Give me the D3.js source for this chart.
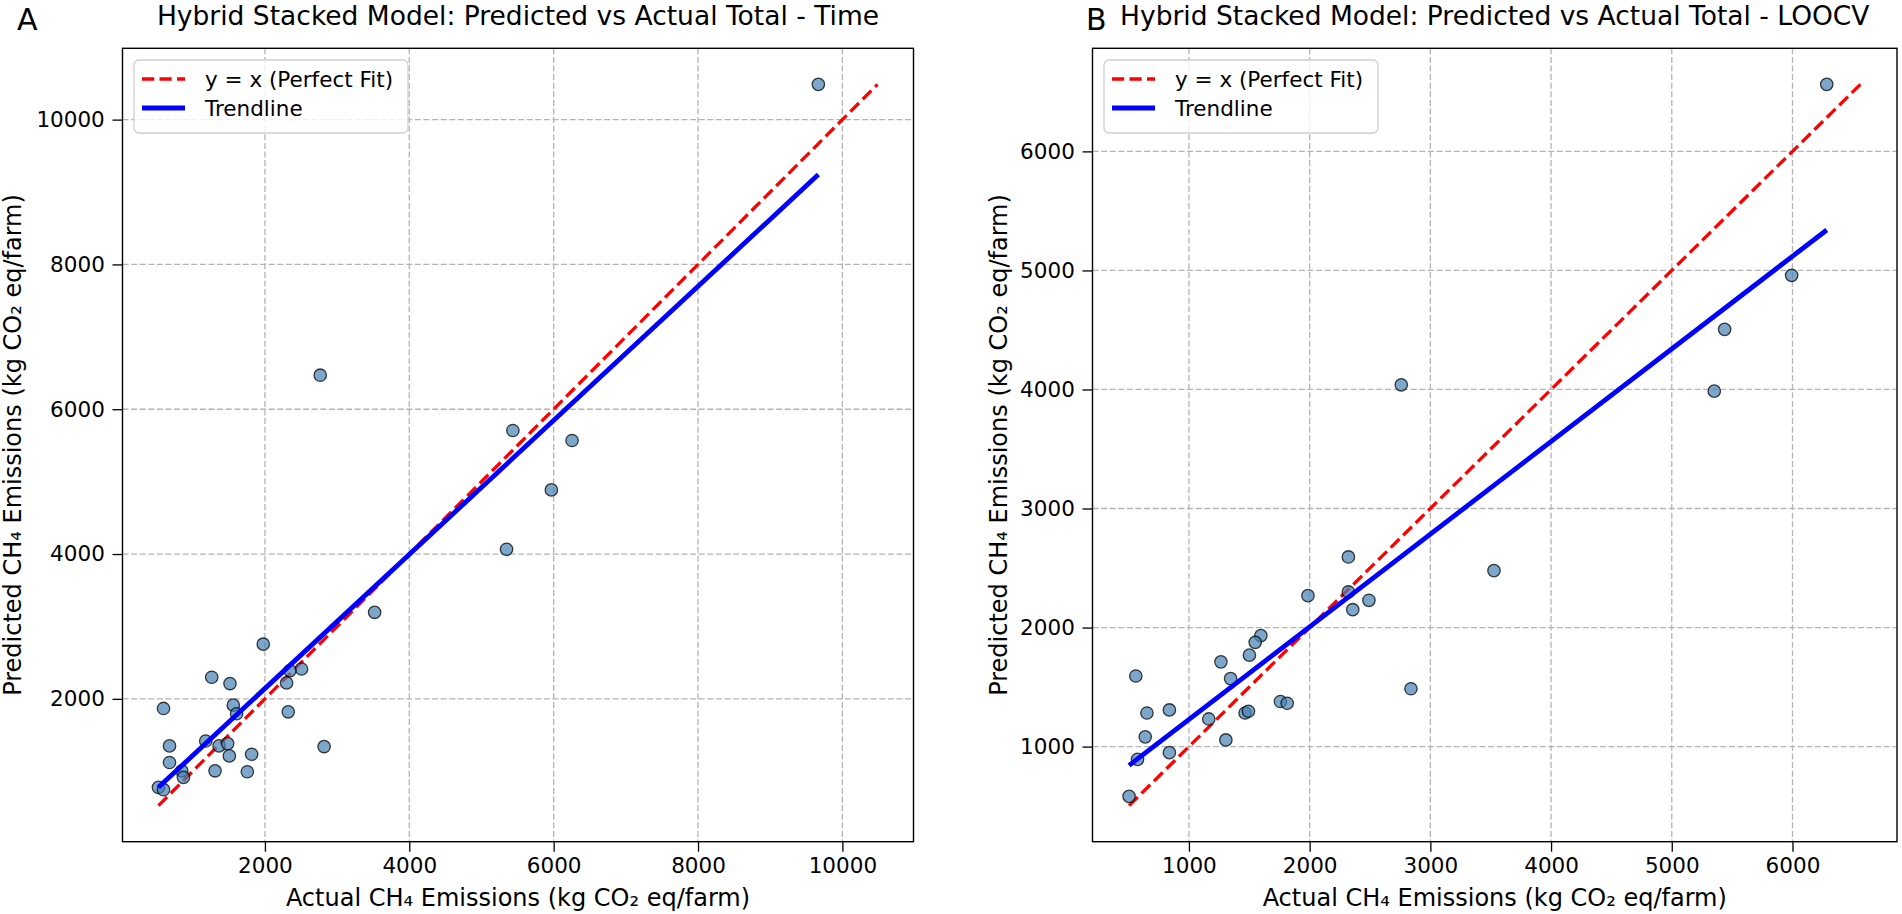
<!DOCTYPE html>
<html>
<head>
<meta charset="utf-8">
<script src="https://cdn.jsdelivr.net/npm/d3@7"></script>
<style>
  body { margin: 0; background: #fff; }
  svg { display: block; }
  text { font-family: "DejaVu Sans", sans-serif; }
</style>
</head>
<body>
<div id="graphic"></div>
<script>
// panel A - time split
const timeActual = [3520, 1977, 1263, 1516, 2507, 2300, 2346, 595, 1562, 1608, 2323,
  1180, 1364, 1484, 678, 1507, 1816, 2820, 678, 848, 871, 1309, 1756, 525, 595,
  9667, 5435, 6255, 5968, 5347, 2766];
const timePred = [3195, 2755, 2298, 2211, 2412, 2220, 2390, 1867, 1913, 1794, 1821,
  1418, 1350, 1382, 1350, 1212, 1235, 1341, 1121, 1006, 915, 1006, 993, 777, 745,
  10487, 5706, 5568, 4886, 4066, 6470];

// panel B - LOOCV
const loocvActual = [2321, 1986, 2321, 2491, 2357, 1596, 1549, 1501, 1265, 560, 1345,
  2839, 1758, 1814, 652, 838, 1465, 1493, 1164, 638, 1306, 838, 574, 504,
  2759, 3527, 5352, 5438, 5993, 6284];
const loocvPred = [2593, 2268, 2299, 2229, 2150, 1932, 1876, 1768, 1712, 1593, 1571,
  1486, 1379, 1364, 1282, 1308, 1282, 1297, 1232, 1082, 1056, 949, 893, 582,
  4039, 2478, 3986, 4505, 4959, 6563];

const ticksA = [2000, 4000, 6000, 8000, 10000];
const ticksB = [1000, 2000, 3000, 4000, 5000, 6000];

const titles = ['Hybrid Stacked Model: Predicted vs Actual Total - Time',
                'Hybrid Stacked Model: Predicted vs Actual Total - LOOCV'];
const panelLetters = ['A', 'B'];
const legendLabels = ['y = x (Perfect Fit)', 'Trendline'];
const xLabel = 'Actual CH\u2084 Emissions (kg CO\u2082 eq/farm)';
const yLabel = 'Predicted CH\u2084 Emissions (kg CO\u2082 eq/farm)';

const width = 1902;
const height = 914;
const plotTop = 48.3, plotBottom = 841.7;

const svg = d3.select('#graphic').append('svg')
    .attr('width', width)
    .attr('height', height);

function linFit(xs, ys) {
    const mx = d3.mean(xs), my = d3.mean(ys);
    let sxy = 0, sxx = 0;
    for (let i = 0; i < xs.length; i++) {
        sxy += (xs[i] - mx) * (ys[i] - my);
        sxx += (xs[i] - mx) * (xs[i] - mx);
    }
    const slope = sxy / sxx;
    return [slope, my - slope * mx];
}

function drawPanel(left, right, actual, pred, ticks, title, letter, letterX, ylabX) {
    const lo = Math.min(d3.min(actual), d3.min(pred));
    const hi = Math.max(d3.max(actual), d3.max(pred));
    const pad = (hi - lo) * 0.05;

    const x = d3.scaleLinear().domain([lo - pad, hi + pad]).range([left, right]);
    const y = d3.scaleLinear().domain([lo - pad, hi + pad]).range([plotBottom, plotTop]);

    const g = svg.append('g');

    // grid
    g.selectAll('.gx').data(ticks).enter().append('line')
        .attr('x1', d => x(d)).attr('x2', d => x(d))
        .attr('y1', plotTop).attr('y2', plotBottom)
        .attr('stroke', '#b4b4b4').attr('stroke-width', 1.3)
        .attr('stroke-dasharray', '6,2.6');
    g.selectAll('.gy').data(ticks).enter().append('line')
        .attr('y1', d => y(d)).attr('y2', d => y(d))
        .attr('x1', left).attr('x2', right)
        .attr('stroke', '#b4b4b4').attr('stroke-width', 1.3)
        .attr('stroke-dasharray', '6,2.6');

    // perfect fit line
    g.append('line')
        .attr('x1', x(lo)).attr('y1', y(lo))
        .attr('x2', x(hi)).attr('y2', y(hi))
        .attr('stroke', 'red').attr('stroke-width', 3.3)
        .attr('stroke-dasharray', '12.2,5.3');

    // points
    const pts = actual.map((a, i) => ({a: a, p: pred[i]}));
    g.selectAll('circle').data(pts).enter().append('circle')
        .attr('cx', d => x(d.a))
        .attr('cy', d => y(d.p))
        .attr('r', 6.2)
        .attr('fill', 'steelblue').attr('fill-opacity', 0.7)
        .attr('stroke', 'black').attr('stroke-opacity', 0.75)
        .attr('stroke-width', 1.3);

    // trendline
    const fit = linFit(actual, pred);
    const xa = d3.min(actual), xb = d3.max(actual);
    g.append('line')
        .attr('x1', x(xa)).attr('y1', y(fit[0] * xa + fit[1]))
        .attr('x2', x(xb)).attr('y2', y(fit[0] * xb + fit[1]))
        .attr('stroke', 'blue').attr('stroke-width', 4.8);

    // frame
    g.append('rect')
        .attr('x', left).attr('y', plotTop)
        .attr('width', right - left).attr('height', plotBottom - plotTop)
        .attr('fill', 'none').attr('stroke', 'black').attr('stroke-width', 1.4);

    // axes
    const ax = g.append('g')
        .attr('transform', `translate(0,${plotBottom})`)
        .call(d3.axisBottom(x).tickValues(ticks).tickSize(10).tickPadding(6).tickFormat(d3.format('d')));
    const ay = g.append('g')
        .attr('transform', `translate(${left},0)`)
        .call(d3.axisLeft(y).tickValues(ticks).tickSize(10).tickPadding(7.7).tickFormat(d3.format('d')));
    [ax, ay].forEach(a => {
        a.select('.domain').remove();
        a.selectAll('line').attr('stroke', 'black').attr('stroke-width', 1.3);
        a.selectAll('text').attr('font-size', 21.5)
            .attr('font-family', '"DejaVu Sans", sans-serif').attr('fill', 'black');
    });

    // labels
    g.append('text')
        .attr('x', (left + right) / 2).attr('y', 906)
        .attr('text-anchor', 'middle').attr('font-size', 24)
        .text(xLabel);
    g.append('text')
        .attr('transform', `translate(${ylabX},${(plotTop + plotBottom) / 2}) rotate(-90)`)
        .attr('text-anchor', 'middle').attr('font-size', 24)
        .text(yLabel);
    g.append('text')
        .attr('x', (left + right) / 2).attr('y', 25)
        .attr('text-anchor', 'middle').attr('font-size', 26.5)
        .text(title);
    g.append('text')
        .attr('x', letterX).attr('y', 30)
        .attr('font-family', '"Liberation Serif", "Times New Roman", serif')
        .attr('font-size', 30)
        .text(letter);

    // legend
    const lg = g.append('g').attr('transform', `translate(${left},0)`);
    lg.append('rect')
        .attr('x', 11.5).attr('y', 60).attr('width', 274).attr('height', 73)
        .attr('rx', 5).attr('fill', 'white').attr('fill-opacity', 0.8)
        .attr('stroke', '#cfcfcf').attr('stroke-width', 1.3);
    const rows = [79, 108];
    lg.append('line')
        .attr('x1', 19.5).attr('x2', 62.5).attr('y1', rows[0]).attr('y2', rows[0])
        .attr('stroke', 'red').attr('stroke-width', 3.3).attr('stroke-dasharray', '12.2,5.3');
    lg.append('line')
        .attr('x1', 19.5).attr('x2', 62.5).attr('y1', rows[1]).attr('y2', rows[1])
        .attr('stroke', 'blue').attr('stroke-width', 4.8);
    lg.selectAll('.lt').data(legendLabels).enter().append('text')
        .attr('x', 82.5).attr('y', (d, i) => rows[i])
        .attr('dy', '0.35em').attr('font-size', 21.5)
        .text(d => d);
}

drawPanel(122.5, 913.5, timeActual, timePred, ticksA, titles[0], panelLetters[0], 17, 21);
drawPanel(1092.5, 1897, loocvActual, loocvPred, ticksB, titles[1], panelLetters[1], 1086, 1006.5);
</script>
</body>
</html>
